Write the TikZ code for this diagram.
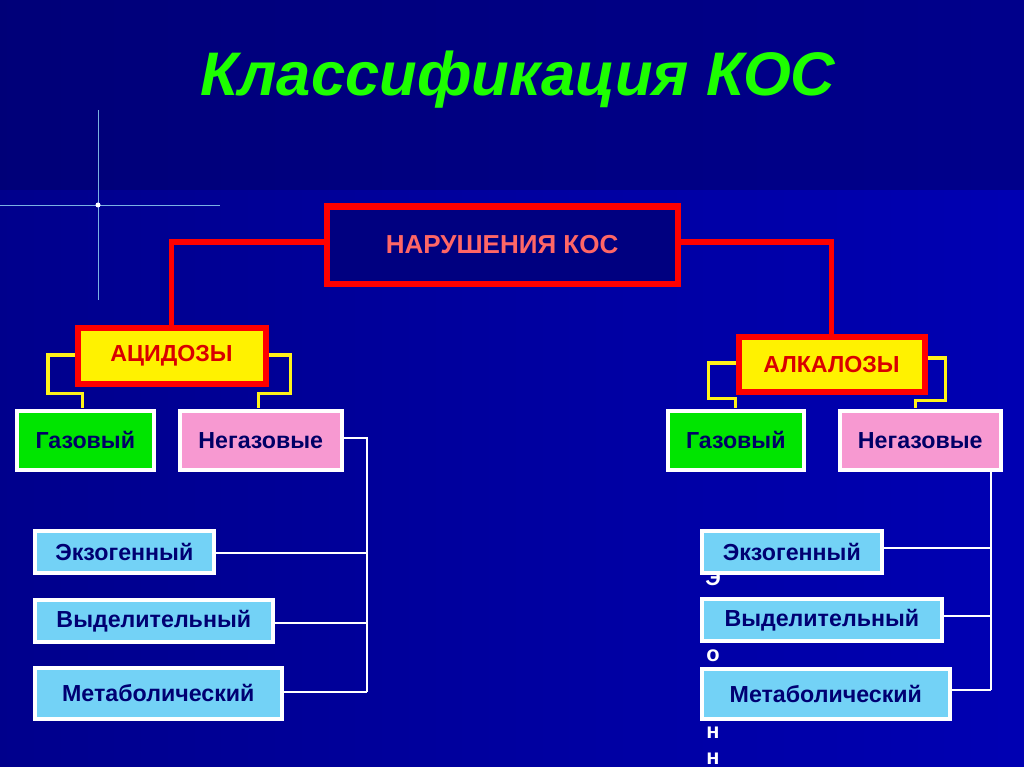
\documentclass[tikz,border=0pt]{standalone}
\usepackage{fontspec}
\setmainfont{Liberation Sans}
\begin{document}
\begin{tikzpicture}[x=0.01cm,y=-0.01cm,
  mw/.style={minimum width=#1*0.2845pt},
  mh/.style={minimum height=#1*0.2845pt},
  bx/.style={draw=white,line width=3.5*0.2845pt,inner sep=0pt,anchor=north west,font=\bfseries\fontsize{6.6}{7}\selectfont,text=blue!40!black},
  rbx/.style={draw=red,line width=6*0.2845pt,fill=yellow,inner sep=0pt,anchor=north west,font=\bfseries\fontsize{6.6}{7}\selectfont,text=red!85!black},
  rl/.style={red,line width=5*0.2845pt},
  yl/.style={yellow!90!white,line width=3*0.2845pt},
  wl/.style={white,line width=2.5*0.2845pt}]
\shade[left color=blue!55!black,right color=blue!70!black] (0,0) rectangle (1024,767);
\fill[blue!40!black,opacity=0.5] (0,0) rectangle (1024,190);
\useasboundingbox (0,0) rectangle (1024,767);
% sparkle
\draw[cyan!40!white,line width=0.25pt,opacity=0.8] (0,205) -- (220,205);
\draw[cyan!40!white,line width=0.25pt,opacity=0.8] (98,110) -- (98,300);
\fill[white] (98,205) circle (2.5);
% title
\node[font=\bfseries\itshape\fontsize{17.5}{20}\selectfont,text=green!85!lime] (title) at (518,80) {Классификация КОС};
% vertical letters
\foreach \ch [count=\i from 0] in {Э,к,з,о,г,е,н,н}
  \node[font=\bfseries\fontsize{6.2}{7}\selectfont,text=white] (v\i) at (713,578+25.8*\i) {\ch};
% main
\node[draw=red,line width=6*0.2845pt,fill=blue!50!black,mw=351,mh=77,anchor=north west,inner sep=0pt,font=\bfseries\fontsize{7.4}{8}\selectfont,text=red!60!white] (main) at (323.5,203.5) {НАРУШЕНИЯ КОС};
\node[rbx,mw=188,mh=56] (ac) at (74.5,324.5) {АЦИДОЗЫ};
\node[rbx,mw=186,mh=55] (al) at (735.5,333.5) {АЛКАЛОЗЫ};
\draw[rl] (main.west |- 0,242) -| (ac.north);
\draw[rl] (main.east |- 0,242) -| (al.north);
% level 3
\node[bx,fill=green!90!black,mw=137,mh=59] (g1) at (15,409) {Газовый};
\node[bx,fill=magenta!40!white,mw=162,mh=59] (n1) at (178,409) {Негазовые};
\node[bx,fill=green!90!black,mw=136,mh=59] (g2) at (666,409) {Газовый};
\node[bx,fill=magenta!40!white,mw=161,mh=59] (n2) at (838,409) {Негазовые};
\draw[yl] (ac.west |- 0,355) -- (48,355) -- (48,393) -- (82,393) -- (82,408);
\draw[yl] (ac.east |- 0,355) -- (290,355) -- (290,393) -- (258,393) -- (258,408);
\draw[yl] (al.west |- 0,363) -- (708,363) -- (708,398) -- (735,398) -- (735,408);
\draw[yl] (al.east |- 0,358) -- (945,358) -- (945,400) -- (915,400) -- (915,408);
% lists
\tikzset{lb/.style={bx,fill=cyan!55!white,text=blue!45!black,mh=42}}
\node[lb,mw=179] (e1) at (33,529) {Экзогенный};
\node[lb,mw=238] (d1) at (33,598) {Выделительный};
\node[lb,mw=247,mh=51] (m1) at (33,666) {Метаболический};
\node[lb,mw=180] (e2) at (700,529) {Экзогенный};
\node[lb,mw=240] (d2) at (700,597) {Выделительный};
\node[lb,mw=248,mh=50] (m2) at (700,667) {Метаболический};
\coordinate (c1) at (367,692);
\draw[wl] (n1.east |- 0,438) -| (c1);
\draw[wl] (e1.east |- 0,553) -- (367,553);
\draw[wl] (d1.east |- 0,623) -- (367,623);
\draw[wl] (m1.east |- 0,692) -- (c1);
\coordinate (c2) at (991,690);
\draw[wl] (991,469) -- (c2);
\draw[wl] (e2.east |- 0,548) -- (991,548);
\draw[wl] (d2.east |- 0,616) -- (991,616);
\draw[wl] (m2.east |- 0,690) -- (c2);
\end{tikzpicture}
\end{document}
